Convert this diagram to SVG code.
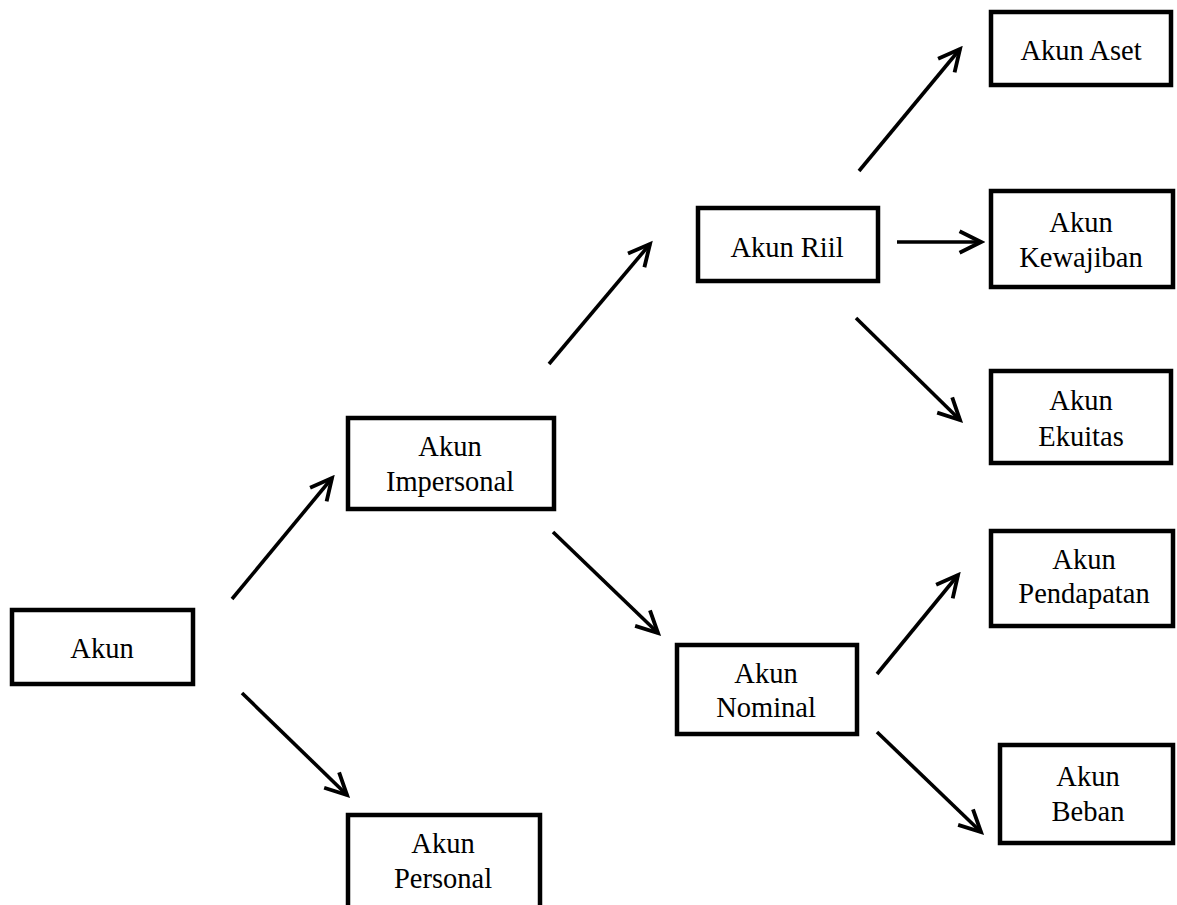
<svg xmlns="http://www.w3.org/2000/svg" width="1177" height="905" viewBox="0 0 1177 905">
<defs>
<style>
.box{fill:#fff;stroke:#000;stroke-width:4.5}
.lbl{font-family:"Liberation Serif","Times New Roman",serif;font-size:28.5px;fill:#000;text-anchor:middle}
.edge{stroke:#000;stroke-width:3.6;fill:none;marker-end:url(#arr)}
</style>
<marker id="arr" markerUnits="userSpaceOnUse" markerWidth="30" markerHeight="30" viewBox="-24 -14 28 28" refX="0" refY="0" orient="auto">
<path d="M-20,-10 L0,0 L-20,10" fill="none" stroke="#000" stroke-width="3.6" stroke-linejoin="miter"/>
</marker>
</defs>
<rect width="1177" height="905" fill="#fff"/>
<g id="connectors">
<line class="edge" x1="232" y1="599" x2="332" y2="478"/>
<line class="edge" x1="242" y1="693" x2="347" y2="795"/>
<line class="edge" x1="549" y1="364" x2="650" y2="244"/>
<line class="edge" x1="553" y1="532" x2="658" y2="633"/>
<line class="edge" x1="859" y1="171" x2="960" y2="49"/>
<line class="edge" x1="897" y1="242" x2="981" y2="242"/>
<line class="edge" x1="856" y1="318" x2="960" y2="420"/>
<line class="edge" x1="877" y1="674" x2="958" y2="575"/>
<line class="edge" x1="877" y1="732" x2="981" y2="832"/>
</g>
<g id="akun"><rect class="box" x="12" y="610" width="181" height="74"/><text class="lbl" x="102" y="658">Akun</text></g>
<g id="akun-impersonal"><rect class="box" x="348" y="418" width="206" height="91"/><text class="lbl" x="450" y="456">Akun</text><text class="lbl" x="450" y="491">Impersonal</text></g>
<g id="akun-personal"><rect class="box" x="348" y="815" width="192" height="100"/><text class="lbl" x="443" y="853">Akun</text><text class="lbl" x="443" y="888">Personal</text></g>
<g id="akun-riil"><rect class="box" x="698" y="208" width="180" height="73"/><text class="lbl" x="787" y="257">Akun Riil</text></g>
<g id="akun-aset"><rect class="box" x="991" y="12" width="180" height="73"/><text class="lbl" x="1081" y="60">Akun Aset</text></g>
<g id="akun-kewajiban"><rect class="box" x="991" y="191" width="182" height="96"/><text class="lbl" x="1081" y="232">Akun</text><text class="lbl" x="1081" y="267">Kewajiban</text></g>
<g id="akun-ekuitas"><rect class="box" x="991" y="371" width="180" height="92"/><text class="lbl" x="1081" y="410">Akun</text><text class="lbl" x="1081" y="446">Ekuitas</text></g>
<g id="akun-nominal"><rect class="box" x="677" y="645" width="180" height="89"/><text class="lbl" x="766" y="683">Akun</text><text class="lbl" x="766" y="717">Nominal</text></g>
<g id="akun-pendapatan"><rect class="box" x="991" y="531" width="182" height="95"/><text class="lbl" x="1084" y="569">Akun</text><text class="lbl" x="1084" y="603">Pendapatan</text></g>
<g id="akun-beban"><rect class="box" x="1000" y="745" width="173" height="98"/><text class="lbl" x="1088" y="786">Akun</text><text class="lbl" x="1088" y="821">Beban</text></g>
</svg>
